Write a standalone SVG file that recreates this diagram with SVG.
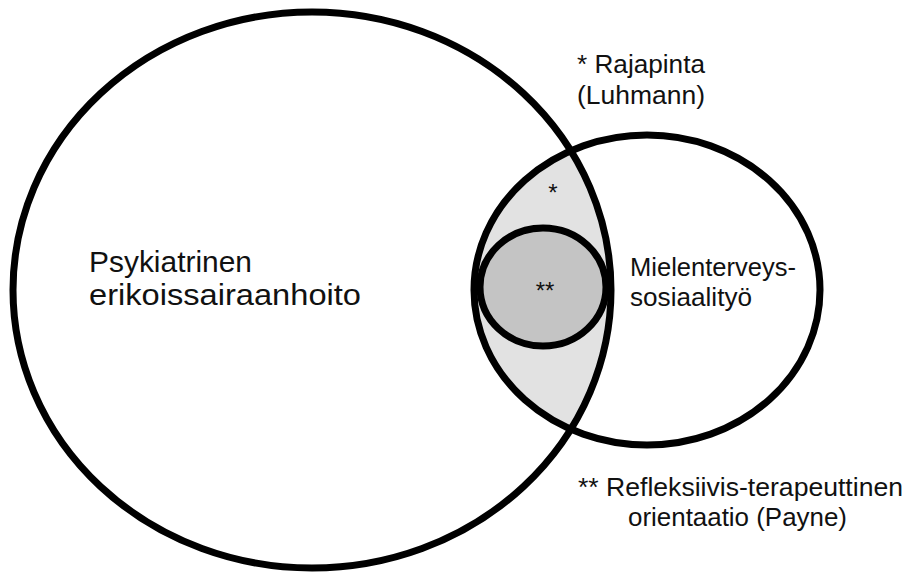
<svg xmlns="http://www.w3.org/2000/svg" width="910" height="574" viewBox="0 0 910 574">
<style>
.ln{fill:none;stroke:#000;stroke-width:7}
.t{font-family:"Liberation Sans",Arial,sans-serif;fill:#111}
.big{font-size:30px}
.sm{font-size:26px}
</style>
<defs>
<clipPath id="clipBig"><ellipse cx="312" cy="290" rx="299" ry="278"/></clipPath>
</defs>
<rect width="910" height="574" fill="#fff"/>
<g id="lens">
<ellipse cx="647" cy="290" rx="173" ry="155" fill="#e2e2e2" clip-path="url(#clipBig)"/>
</g>
<g id="psykiatrinen">
<ellipse class="ln" cx="312" cy="290" rx="299" ry="278"/>
<text class="t big" x="89" y="272" textLength="163" lengthAdjust="spacingAndGlyphs">Psykiatrinen</text>
<text class="t big" x="89" y="305" textLength="272" lengthAdjust="spacingAndGlyphs">erikoissairaanhoito</text>
</g>
<g id="mielenterveys">
<ellipse class="ln" cx="647" cy="290" rx="173" ry="155"/>
<text class="t sm" x="630" y="276" textLength="166" lengthAdjust="spacingAndGlyphs">Mielenterveys-</text>
<text class="t sm" x="630" y="306" textLength="122" lengthAdjust="spacingAndGlyphs">sosiaalityö</text>
</g>
<g id="rajapinta">
<text class="t" x="553" y="201" font-size="24" text-anchor="middle">*</text>
</g>
<g id="refleksiivinen">
<ellipse cx="543" cy="287" rx="63" ry="59" fill="#c4c4c4" stroke="#000" stroke-width="7"/>
<text class="t" x="545" y="299" font-size="24" text-anchor="middle">**</text>
</g>
<g id="notes">
<text class="t sm" x="577" y="73" textLength="128" lengthAdjust="spacingAndGlyphs">* Rajapinta</text>
<text class="t sm" x="577" y="104" textLength="128" lengthAdjust="spacingAndGlyphs">(Luhmann)</text>
<text class="t sm" x="578" y="496" textLength="325" lengthAdjust="spacingAndGlyphs">** Refleksiivis-terapeuttinen</text>
<text class="t sm" x="628" y="526" textLength="219" lengthAdjust="spacingAndGlyphs">orientaatio (Payne)</text>
</g>
</svg>
